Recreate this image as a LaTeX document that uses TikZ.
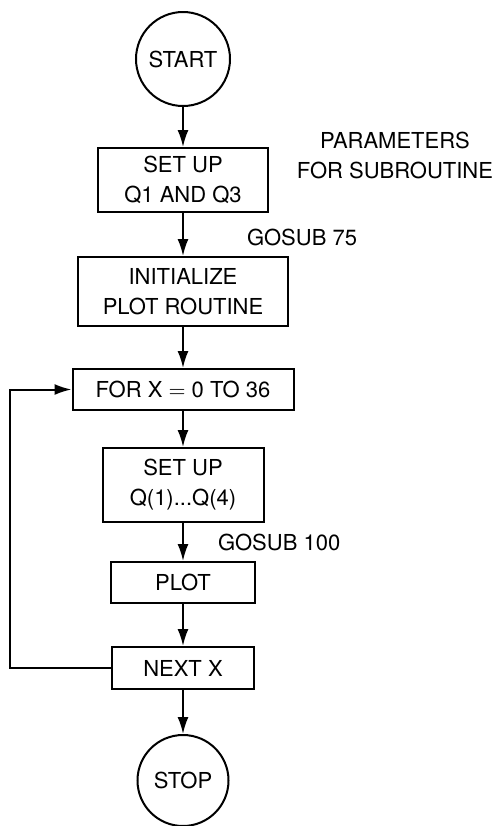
\documentclass[tikz,border=0pt]{standalone}
\usepackage{fontspec}
\setmainfont{TeX Gyre Heros}
\usetikzlibrary{arrows.meta}

\begin{document}
\begin{tikzpicture}[x=.5pt,y=-.5pt,line width=1pt,
  box/.style={draw,inner sep=0pt,align=center,font=\fontsize{11}{15}\selectfont},
  term/.style={draw,circle,inner sep=0pt,font=\fontsize{11}{15}\selectfont},
  lbl/.style={inner sep=0pt,align=center,font=\fontsize{11}{15}\selectfont},
  arr/.style={-{Latex[length=8.5pt,width=5.5pt]}}]
\useasboundingbox (0,0) rectangle (502,826);
\node[term,minimum size=47pt] (start) at (183,59) {START};
\node[box,minimum width=85pt,minimum height=32pt] (setq) at (183,180) {SET UP\\Q1 AND Q3};
\node[box,minimum width=105pt,minimum height=34.5pt] (init) at (183,291.5) {INITIALIZE\\PLOT ROUTINE};
\node[box,minimum width=110.5pt,minimum height=20.5pt] (for) at (183,389.5) {FOR X $=$ 0 TO 36};
\node[box,minimum width=80.5pt,minimum height=37pt] (setqq) at (183,485) {SET UP\\Q(1)...Q(4)};
\node[box,minimum width=72pt,minimum height=20.5pt] (plot) at (183,582.5) {PLOT};
\node[box,minimum width=71pt,minimum height=21pt] (next) at (183,668) {NEXT X};
\node[term,minimum size=45.5pt] (stop) at (183,780.5) {STOP};
\node[lbl] (param) at (395,155) {PARAMETERS\\FOR SUBROUTINE};
\node[lbl,anchor=west] (gosa) at (246,237.5) {GOSUB 75};
\node[lbl,anchor=west] (gosb) at (217,542) {GOSUB 100};
\foreach \a/\b in {start/setq,setq/init,init/for,for/setqq,setqq/plot,plot/next,next/stop}
  \draw[arr] (\a) -- (\b);
\coordinate (back) at (10,668);
\draw[arr] (next.west) -- (back) |- (for.west);
\end{tikzpicture}
\end{document}
